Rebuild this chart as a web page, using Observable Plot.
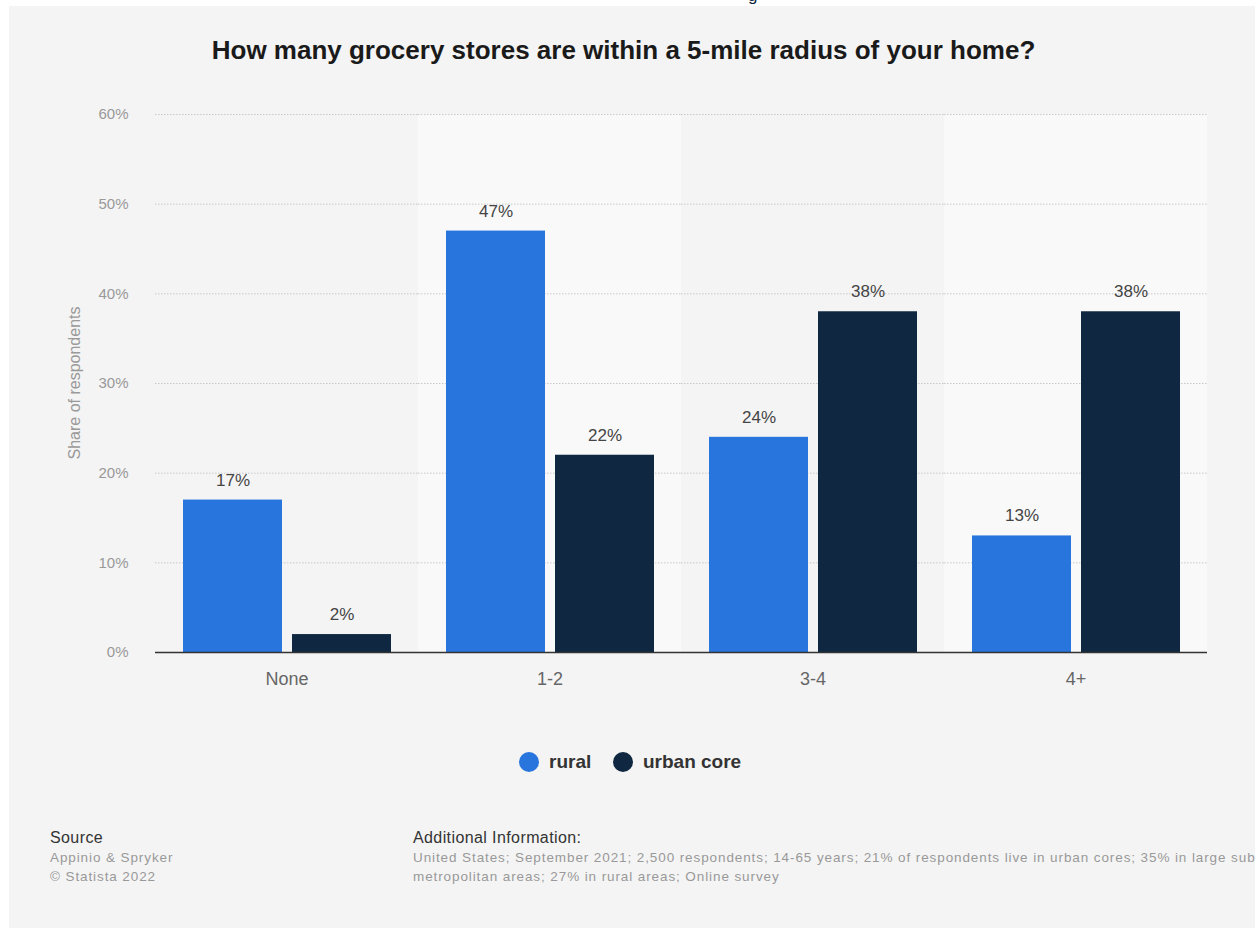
<!DOCTYPE html>
<html>
<head>
<meta charset="utf-8">
<script src="https://cdn.jsdelivr.net/npm/d3@7"></script>
<script src="https://cdn.jsdelivr.net/npm/@observablehq/plot@0.6"></script>
<style>
  html, body { margin: 0; padding: 0; background: #ffffff; width: 1255px; height: 928px; overflow: hidden; font-family: "Liberation Sans", Arial, sans-serif; }
  #panel { position: absolute; left: 9px; top: 6px; width: 1246px; height: 922px; background: #f4f4f4; overflow: hidden; }
  #topcut { position: absolute; left: 748px; top: -14px; font-size: 17px; color: #0f2741; }
  #title { position: absolute; left: -4px; top: 35px; width: 1255px; text-align: center; font-size: 26px; font-weight: bold; color: #1a1a1a; white-space: nowrap; }
  #chart { position: absolute; left: 10px; top: 90px; }
  #ylabel { position: absolute; left: 75px; top: 383px; transform: translate(-50%, -50%) rotate(-90deg); font-size: 16px; color: #999; white-space: nowrap; }
  #legend { position: absolute; top: 751px; left: 0; width: 1255px; height: 22px; }
  .lg { position: absolute; display: flex; align-items: center; height: 22px; font-size: 19px; font-weight: bold; color: #333; }
  .dot { width: 20px; height: 20px; border-radius: 50%; margin-right: 10px; }
  .foot { position: absolute; white-space: nowrap; }
  .fh { font-size: 16px; letter-spacing: 0.4px; color: #333; }
  .ft { font-size: 13.5px; letter-spacing: 0.9px; color: #999; line-height: 19px; }
</style>
</head>
<body>
<div id="panel"></div>
<div id="topcut">g</div>
<div id="title"></div>
<div id="chart"></div>
<div id="ylabel"></div>
<div id="legend"></div>
<div class="foot fh" style="left:50px; top:829px;">Source</div>
<div class="foot ft" style="left:50px; top:848px;">Appinio &amp; Spryker<br>© Statista 2022</div>
<div class="foot fh" style="left:413px; top:829px;">Additional Information:</div>
<div class="foot ft" style="left:413px; top:848px;">United States; September 2021; 2,500 respondents; 14-65 years; 21% of respondents live in urban cores; 35% in large suburban and<br>metropolitan areas; 27% in rural areas; Online survey</div>
<script>
const titleText = "How many grocery stores are within a 5-mile radius of your home?";
const yLabelText = "Share of respondents";
const categories = ["None", "1-2", "3-4", "4+"];
const series = ["rural", "urban core"];
const rural = [17, 47, 24, 13];
const urbanCore = [2, 22, 38, 38];
const colors = ["#2876dd", "#0f2741"];
const yTicks = [0, 10, 20, 30, 40, 50, 60];
const shadedCategories = ["1-2", "4+"];

document.getElementById("title").textContent = titleText;
document.getElementById("ylabel").textContent = yLabelText;

const data = [];
categories.forEach((c, i) => {
  data.push({cat: c, series: series[0], value: rural[i]});
  data.push({cat: c, series: series[1], value: urbanCore[i]});
});

const chart = Plot.plot({
  width: 1245,
  height: 610,
  marginLeft: 145,
  marginRight: 48,
  marginTop: 24,
  marginBottom: 48,
  style: {background: "transparent", fontFamily: "Liberation Sans, Arial, sans-serif"},
  fx: {domain: categories, padding: 0, label: null},
  x: {domain: series, paddingInner: 0.092, paddingOuter: 0.252, axis: null},
  y: {domain: [0, 60], label: null},
  color: {domain: series, range: colors},
  marks: [
    Plot.rect(shadedCategories.map(c => ({cat: c})), {fx: "cat", y1: 0, y2: 60, fill: "#f9f9f9"}),
    Plot.gridY(yTicks.slice(1), {stroke: "#c8c8c8", strokeOpacity: 1, strokeDasharray: "1.5,1.5"}),
    Plot.axisY({ticks: yTicks, tickFormat: d => d + "%", tickSize: 0, tickPadding: 27, fontSize: 15, fill: "#999", label: null}),
    Plot.axisFx({anchor: "bottom", tickSize: 0, tickPadding: 20, fontSize: 18, fill: "#666", label: null}),
    Plot.barY(data, {fx: "cat", x: "series", y: "value", fill: "series"}),
    Plot.ruleY([0], {stroke: "#333", strokeWidth: 1.5}),
    Plot.text(data, {fx: "cat", x: "series", y: "value", text: d => d.value + "%", dy: -20, fontSize: 17, fill: "#444"})
  ]
});
document.getElementById("chart").appendChild(chart);

const legend = document.getElementById("legend");
const legendX = [519, 613];
series.forEach((s, i) => {
  const item = document.createElement("div");
  item.className = "lg";
  item.style.left = legendX[i] + "px";
  item.style.top = "0px";
  const dot = document.createElement("div");
  dot.className = "dot";
  dot.style.background = colors[i];
  const label = document.createElement("span");
  label.textContent = s;
  item.appendChild(dot);
  item.appendChild(label);
  legend.appendChild(item);
});
</script>
</body>
</html>
